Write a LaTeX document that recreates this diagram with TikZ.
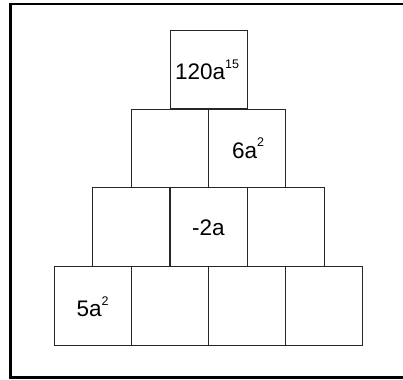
\documentclass[tikz,border=0pt]{standalone}
\usepackage{fontspec}
\setmainfont{Liberation Sans}
\newcommand\supx[1]{\raisebox{11pt}{\fontsize{12.5}{12.5}\selectfont #1}}
\begin{document}
\begin{tikzpicture}[x=1pt,y=-1pt,
  cell/.style={draw=black!85,line width=1pt,minimum width=77pt,minimum height=78.5pt,inner sep=0pt,anchor=center},
  lbl/.style={anchor=base,inner sep=0pt,font=\fontsize{22.5}{26}\selectfont}]
\useasboundingbox (0,0) rectangle (403,379);
\clip (0,0) rectangle (403,379);
\draw[line width=2.5pt,black] (10.5,4) rectangle (430,377.5);
% row 1
\node[cell] (r1c1) at (208.5,69.5) {};
% row 2
\node[cell] (r2c1) at (169.5,148.5) {};
\node[cell] (r2c2) at (246.5,148.5) {};
% row 3
\node[cell] (r3c1) at (131,227) {};
\node[cell] (r3c2) at (208.5,227) {};
\node[cell] (r3c3) at (285.5,227) {};
% row 4
\node[cell] (r4c1) at (92.5,306) {};
\node[cell] (r4c2) at (169.5,306) {};
\node[cell] (r4c3) at (246.5,306) {};
\node[cell] (r4c4) at (323.5,306) {};
% labels
\node[lbl] (t1) at (207,80) {120a\supx{15}};
\node[lbl] (t2) at (248,158) {6a\supx{2}};
\node[lbl] (t3) at (208.5,235) {-2a};
\node[lbl] (t4) at (92.5,316) {5a\supx{2}};
\end{tikzpicture}
\end{document}
